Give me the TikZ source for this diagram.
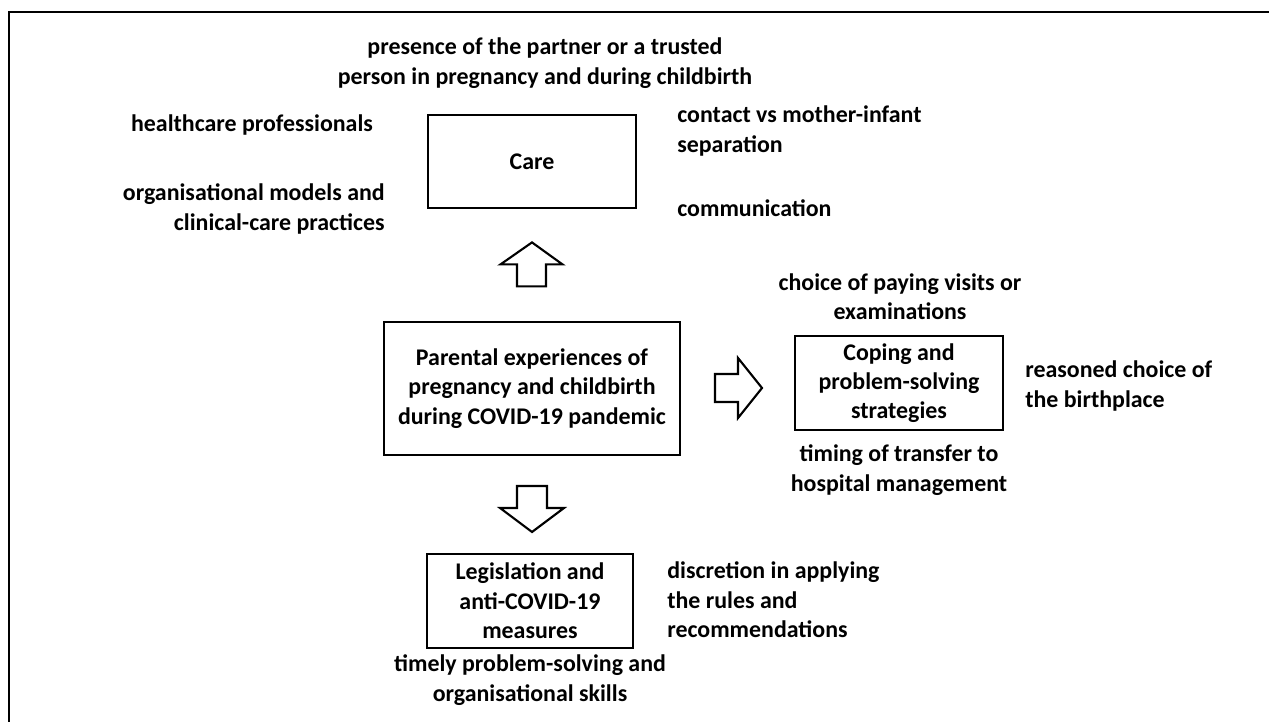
\documentclass[tikz,border=0pt]{standalone}
\usepackage{fontspec}
\setmainfont{Carlito}
\usetikzlibrary{positioning,calc}

\begin{document}
\begin{tikzpicture}[x=0.02cm,y=-0.02cm,
	box/.style = {draw, line width=1.6pt, align=center, inner sep=2pt},
	lbl/.style = {inner sep=0pt},
	blk/.style = {draw, line width=1.2pt, line join=miter, fill=white},
	every node/.style = {font=\fontsize{13.6}{16.7}\selectfont\bfseries}]
	\useasboundingbox (0,0) rectangle (1269,722);
	% outer frame, cut by the page edge
	\draw[line width=1.1pt] (9,740) -- (9,12) -- (1290,12);

	\node[box, minimum width=208*0.02cm, minimum height=93*0.02cm] (care) at (532,161.5) {Care};
	\node[box, minimum width=296*0.02cm, minimum height=133*0.02cm] (exper) at (532,388.5) {Parental experiences of\\pregnancy and childbirth\\during COVID-19 pandemic};
	\node[box, minimum width=208*0.02cm, minimum height=94*0.02cm] (coping) at (899,383) {Coping and\\problem-solving\\strategies};
	\node[box, minimum width=206*0.02cm, minimum height=94*0.02cm] (legis) at (530,601) {Legislation and\\anti-COVID-19\\measures};

	% block arrows
	\coordinate (uptip) at ($(care.south)+(0,33)$);
	\coordinate (rttip) at (762,388);
	\coordinate (dntip) at (532,532);
	\draw[blk] (uptip) -- ++(30.5,22) -- ++(-16.5,0) -- ++(0,22) -- ++(-29,0) -- ++(0,-22) -- ++(-16.5,0) -- cycle;
	\draw[blk] (rttip) -- ++(-24,-30) -- ++(0,16) -- ++(-23,0) -- ++(0,28) -- ++(23,0) -- ++(0,16) -- cycle;
	\draw[blk] (dntip) -- ++(32,-24) -- ++(-17,0) -- ++(0,-22) -- ++(-30,0) -- ++(0,22) -- ++(-17,0) -- cycle;

	% care themes
	\node[lbl, align=center] (partner) at (545,63) {presence of the partner or a trusted\\person in pregnancy and during childbirth};
	\node[lbl] (health) at (252,125) {healthcare professionals};
	\node[lbl, align=right, anchor=east] (orgmod) at (385,209) {organisational models and\\clinical-care practices};
	\node[lbl, align=left, anchor=west] (contact) at (677,131) {contact vs mother-infant\\separation};
	\node[lbl, anchor=west] (comm) at (677,208) {communication};

	% coping themes
	\node[lbl, align=center] (paying) at (900,297) {choice of paying visits or\\examinations};
	\node[lbl, align=left, anchor=west] (birthpl) at (1025,386) {reasoned choice of\\the birthplace};
	\node[lbl, align=center] (timing) at (899,470) {timing of transfer to\\hospital management};

	% legislation themes
	\node[lbl, align=left, anchor=west] (discr) at (667,600) {discretion in applying\\the rules and\\recommendations};
	\node[lbl, align=center] (timely) at (530,680) {timely problem-solving and\\organisational skills};
\end{tikzpicture}
\end{document}
